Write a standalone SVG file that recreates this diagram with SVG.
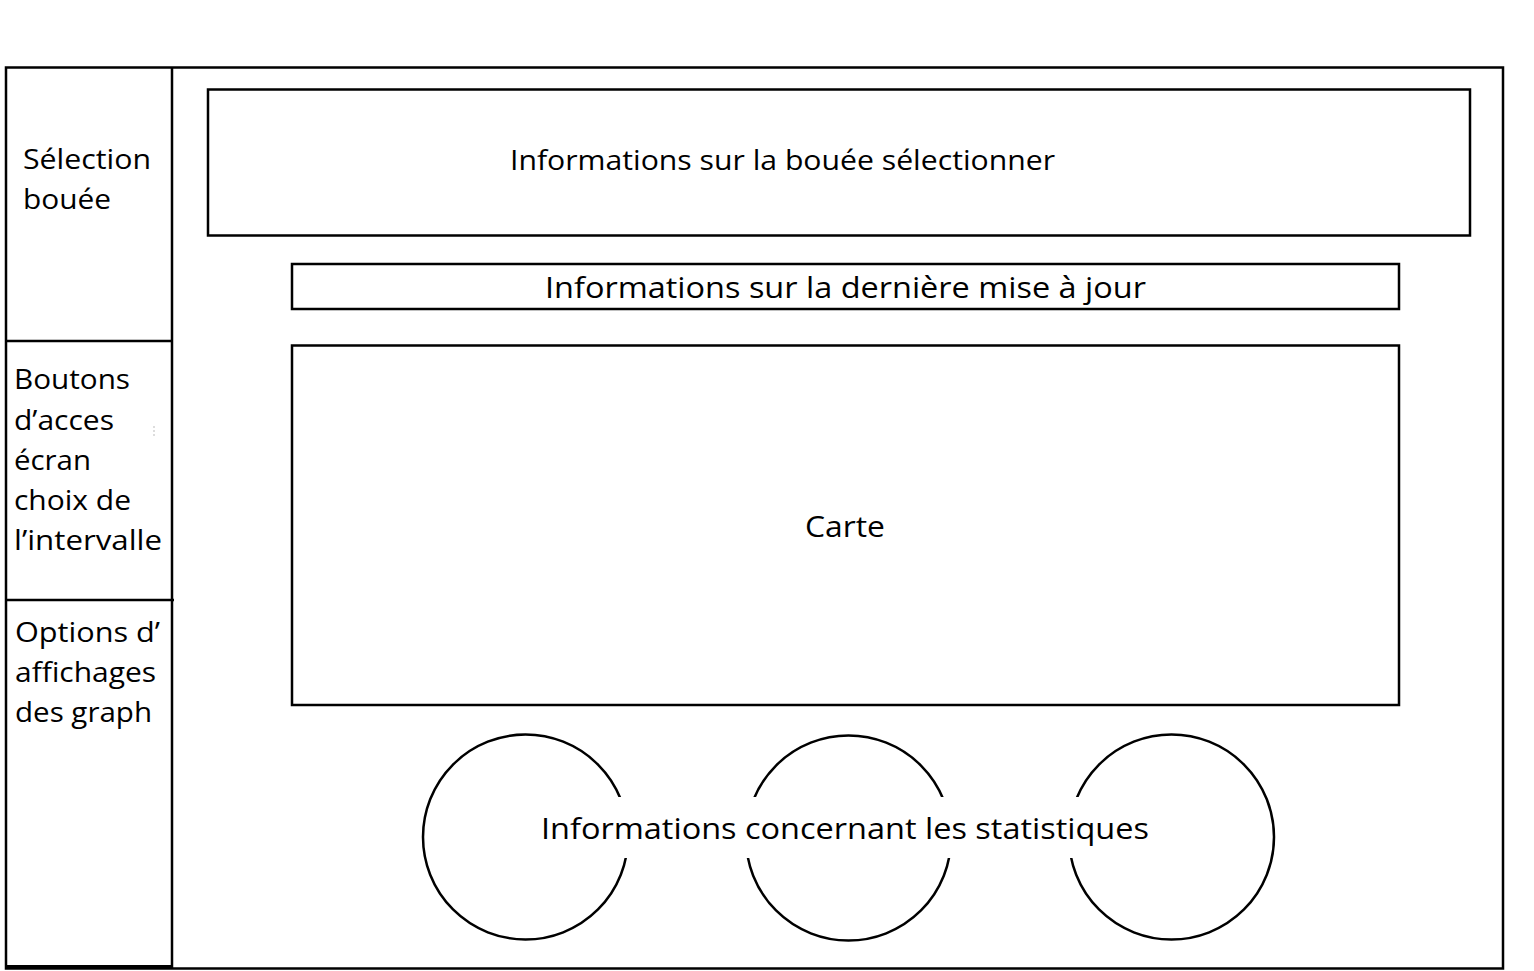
<svg xmlns="http://www.w3.org/2000/svg" width="1534" height="971" viewBox="0 0 1534 971">
<style>
.box{fill:none;stroke:#000;stroke-width:2.5}
.t{font-family:"Open Sans","Liberation Sans",sans-serif;fill:#000}
.l{font-size:28px}
.m{font-size:30px}
.s{font-size:27px}
</style>
<rect width="1534" height="971" fill="#fff"/>
<g id="frame">
<rect class="box" x="6" y="67.5" width="1497" height="901"/>
<line x1="172" y1="67" x2="172" y2="969" stroke="#000" stroke-width="2.5"/>
<line x1="6" y1="967" x2="172" y2="967" stroke="#000" stroke-width="4"/>
</g>
<g id="selection-bouee">
<line x1="6" y1="341" x2="172" y2="341" stroke="#000" stroke-width="2.5"/>
<text class="t l" x="23" y="169" textLength="128" lengthAdjust="spacingAndGlyphs">Sélection</text>
<text class="t l" x="23" y="209" textLength="88" lengthAdjust="spacingAndGlyphs">bouée</text>
</g>
<g id="boutons">
<line x1="6" y1="600" x2="174" y2="600" stroke="#000" stroke-width="2.5"/>
<text class="t l" x="14" y="389" textLength="116" lengthAdjust="spacingAndGlyphs">Boutons</text>
<text class="t l" x="14" y="430" textLength="100" lengthAdjust="spacingAndGlyphs">d’acces</text>
<text class="t l" x="14" y="470" textLength="77" lengthAdjust="spacingAndGlyphs">écran</text>
<text class="t l" x="14" y="510" textLength="117" lengthAdjust="spacingAndGlyphs">choix de</text>
<text class="t l" x="14" y="550" textLength="148" lengthAdjust="spacingAndGlyphs">l’intervalle</text>
<line x1="154" y1="426" x2="154" y2="437" stroke="#bbb" stroke-width="1" stroke-dasharray="2,2"/>
</g>
<g id="options">
<text class="t l" x="15" y="642" textLength="145" lengthAdjust="spacingAndGlyphs">Options d’</text>
<text class="t l" x="15" y="682" textLength="141" lengthAdjust="spacingAndGlyphs">affichages</text>
<text class="t l" x="15" y="722" textLength="137" lengthAdjust="spacingAndGlyphs">des graph</text>
</g>
<g id="info-bouee">
<rect class="box" x="208" y="89.5" width="1262" height="146" stroke-width="3"/>
<text class="t s" x="510" y="170" textLength="545" lengthAdjust="spacingAndGlyphs">Informations sur la bouée sélectionner</text>
</g>
<g id="info-maj">
<rect class="box" x="292" y="264" width="1107" height="45"/>
<text class="t m" x="545" y="298" textLength="601" lengthAdjust="spacingAndGlyphs">Informations sur la dernière mise à jour</text>
</g>
<g id="carte">
<rect class="box" x="292" y="345.5" width="1107" height="359.5"/>
<text class="t m" x="805" y="537" textLength="80" lengthAdjust="spacingAndGlyphs">Carte</text>
</g>
<g id="statistiques">
<circle class="box" cx="525.5" cy="837" r="102.5" stroke-width="2"/>
<circle class="box" cx="848.5" cy="838" r="102.5" stroke-width="2"/>
<circle class="box" cx="1171.5" cy="837" r="102.5" stroke-width="2"/>
<rect x="532" y="797" width="626" height="61" fill="#fff"/>
<text class="t m" x="541" y="839" textLength="608" lengthAdjust="spacingAndGlyphs">Informations concernant les statistiques</text>
</g>
<g id="connectors"/>
</svg>
